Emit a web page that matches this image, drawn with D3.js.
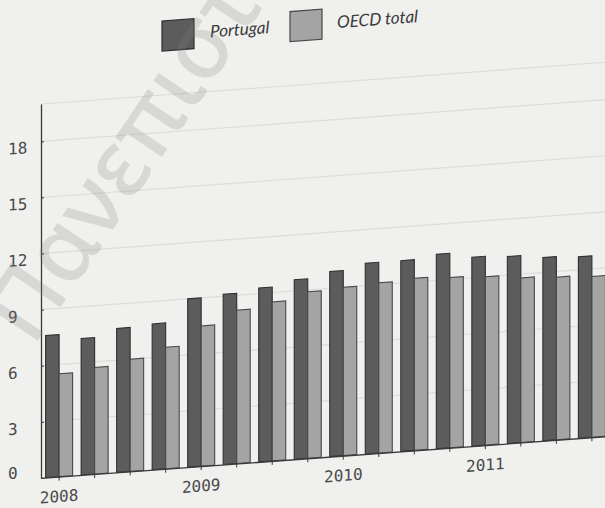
<!DOCTYPE html>
<html>
<head>
<meta charset="utf-8">
<script src="https://cdn.jsdelivr.net/npm/d3@7"></script>
<style>
  html, body { margin: 0; padding: 0; background: #f0f0ee; }
  svg { display: block; }
</style>
</head>
<body>
<svg id="chart" width="605" height="508"></svg>
<script>
// Unemployment rate (%), quarterly, 2008 Q1 – 2011 Q4
const quarters = [
  "2008 Q1", "2008 Q2", "2008 Q3", "2008 Q4",
  "2009 Q1", "2009 Q2", "2009 Q3", "2009 Q4",
  "2010 Q1", "2010 Q2", "2010 Q3", "2010 Q4",
  "2011 Q1", "2011 Q2", "2011 Q3", "2011 Q4"
];
const portugal = [7.6, 7.3, 7.7, 7.8, 9.0, 9.1, 9.3, 9.6, 9.9, 10.2, 10.2, 10.4, 10.1, 10.0, 9.8, 9.7];
const oecdTotal = [5.5, 5.7, 6.0, 6.5, 7.5, 8.2, 8.5, 8.9, 9.0, 9.1, 9.2, 9.1, 9.0, 8.8, 8.7, 8.6];
const seriesNames = ["Portugal", "OECD total"];
const yTicks = [0, 3, 6, 9, 12, 15, 18];
const yearLabels = ["2008", "2009", "2010", "2011"];

const colors = { "Portugal": "#5c5c5c", "OECD total": "#a4a4a4" };
const strokes = { "Portugal": "#2e2e2e", "OECD total": "#484848" };

const svg = d3.select("#chart");

// the printed page is slightly tilted: a gentle vertical shear
const k = 0.074, axisX = 41;
const page = svg.append("g")
  .attr("transform", `matrix(1,${-k},0,1,0,${k * axisX})`);

const x = d3.scaleBand().domain(quarters).range([axisX, 610])
  .paddingInner(0.24).paddingOuter(0.13);
const xs = d3.scaleBand().domain(seriesNames).range([0, x.bandwidth()]);
const y = d3.scaleLinear().domain([0, 20]).range([478, 104]);

// gridlines
page.append("g").selectAll("line")
  .data(yTicks.filter(d => d > 0).concat([20]))
  .join("line")
  .attr("x1", axisX).attr("x2", 612)
  .attr("y1", d => y(d)).attr("y2", d => y(d))
  .attr("stroke", "#dcdcda").attr("stroke-width", 1.2);

// bars
const rows = quarters.map((q, i) => ({ q, values: [
  { s: "Portugal", v: portugal[i] },
  { s: "OECD total", v: oecdTotal[i] }
]}));

page.append("g").selectAll("g")
  .data(rows).join("g")
  .attr("transform", d => `translate(${x(d.q)},0)`)
  .selectAll("rect")
  .data(d => d.values).join("rect")
  .attr("x", d => xs(d.s))
  .attr("width", xs.bandwidth())
  .attr("y", d => y(d.v))
  .attr("height", d => y(0) - y(d.v))
  .attr("fill", d => colors[d.s])
  .attr("stroke", d => strokes[d.s])
  .attr("stroke-width", 1.1);

// y axis: ticks point inward, labels flush left
const yAxis = page.append("g")
  .attr("transform", `translate(${axisX},0)`)
  .call(d3.axisLeft(y).tickValues(yTicks).tickSizeInner(-3).tickSizeOuter(0).tickPadding(0));
yAxis.select(".domain").attr("stroke", "#3a3a3a").attr("stroke-width", 1.3);
yAxis.selectAll(".tick line").attr("stroke", "#3a3a3a");
yAxis.selectAll(".tick text")
  .attr("x", 8 - axisX).attr("text-anchor", "start")
  .attr("dy", d => d === 0 ? "-0.1em" : "0.65em")
  .attr("font-family", "'DejaVu Sans Mono', monospace").attr("font-size", 16)
  .attr("fill", "#4a4a4a");

// x axis: a tick per quarter, the year under each first quarter
const xAxis = page.append("g")
  .attr("transform", `translate(0,${y(0)})`)
  .call(d3.axisBottom(x).tickSizeInner(4).tickSizeOuter(0).tickPadding(10)
    .tickFormat((d, i) => i % 4 === 0 ? yearLabels[i / 4] : ""));
xAxis.select(".domain").attr("stroke", "#3a3a3a").attr("stroke-width", 1.3);
xAxis.selectAll(".tick line").attr("stroke", "#3a3a3a");
xAxis.selectAll(".tick text")
  .attr("font-family", "'DejaVu Sans Mono', monospace").attr("font-size", 16)
  .attr("fill", "#4a4a4a");

// legend
const legend = page.append("g");
const legendItems = [
  { s: "Portugal", bx: 162, tx: 210 },
  { s: "OECD total", bx: 290, tx: 337 }
];
legend.selectAll("rect").data(legendItems).join("rect")
  .attr("x", d => d.bx).attr("y", 30).attr("width", 32).attr("height", 30)
  .attr("fill", d => colors[d.s]).attr("stroke", d => strokes[d.s]).attr("stroke-width", 1.2);
legend.selectAll("text").data(legendItems).join("text")
  .attr("x", d => d.tx).attr("y", 50)
  .attr("font-family", "Lato, 'Open Sans', sans-serif").attr("font-style", "italic")
  .attr("font-size", 17).attr("fill", "#3a3a3a")
  .text(d => d.s);

// watermark stamped across the page
svg.append("text")
  .attr("transform", "translate(33,348) rotate(-56)")
  .attr("font-family", "'Noto Sans', sans-serif").attr("font-weight", 500)
  .attr("font-size", 92).attr("fill", "#808080").attr("opacity", 0.22)
  .text("Πανεπιστήμιο");
</script>
</body>
</html>
